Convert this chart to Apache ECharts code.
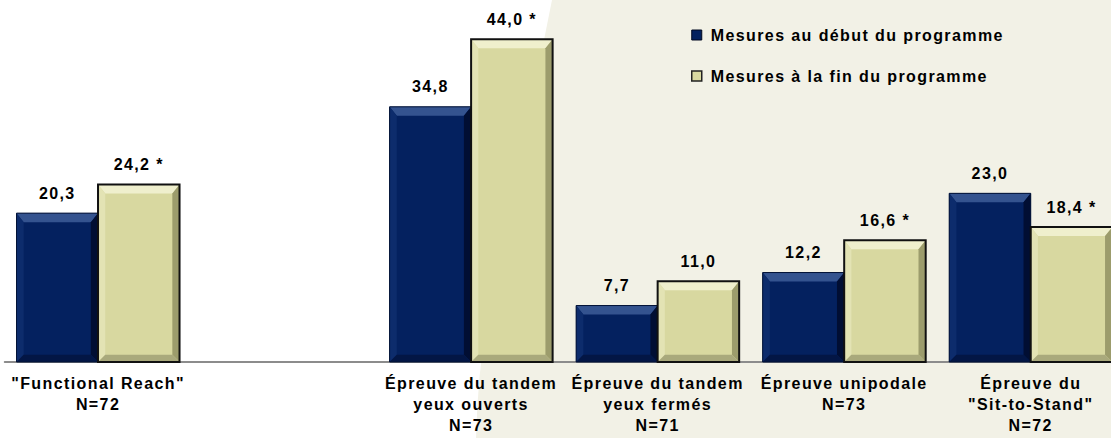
<!DOCTYPE html>
<html>
<head>
<meta charset="utf-8">
<script src="https://cdn.jsdelivr.net/npm/echarts@6/dist/echarts.min.js"></script>
<style>
  html, body { margin: 0; padding: 0; background: #ffffff; }
  #chart { width: 1111px; height: 438px; }
  #chart svg text { letter-spacing: 1.4px; }
</style>
</head>
<body>
<div id="chart"></div>
<script>
// ---- data ----
const categories = [
  '"Functional Reach"\nN=72',
  '',
  'Épreuve du tandem\nyeux ouverts\nN=73',
  'Épreuve du tandem\nyeux fermés\nN=71',
  'Épreuve unipodale\nN=73',
  'Épreuve du\n"Sit-to-Stand"\nN=72'
];
const seriesNames = ['Mesures au début du programme', 'Mesures à la fin du programme'];
const debutValues = [20.3, null, 34.8, 7.7, 12.2, 23.0];
const finValues = [24.2, null, 44.0, 11.0, 16.6, 18.4];
const debutSignificant = [false, false, false, false, false, false];
const finSignificant = [true, false, true, false, true, true];

// ---- styles ----
const FONT = '"Liberation Sans", Arial, sans-serif';
const BAR_RATIO = 81.5 / 186.5;
const BEVEL = 9;
const palettes = [
  { face: '#04215F', top: '#34538F', left: '#0D2C6C', right: '#010E33', bottom: '#031645', border: '#021236', borderWidth: 1 },
  { face: '#D8D8A0', top: '#EFEFCD', left: '#E3E3B4', right: '#9C9C6C', bottom: '#A9A97C', border: '#111111', borderWidth: 2 }
];

function fmt(v, star) {
  return v.toFixed(1).replace('.', ',') + (star ? ' *' : '');
}

function toData(values) {
  const out = [];
  values.forEach((v, i) => { if (v !== null) out.push([i, v]); });
  return out;
}

function makeRender(side, pal, flags) {
  return function (params, api) {
    const ci = api.value(0);
    const v = api.value(1);
    const top = api.coord([ci, v]);
    const base = api.coord([ci, 0]);
    const cw = api.size([1, 0])[0];
    const bw = cw * BAR_RATIO;
    const x0 = side === 0 ? top[0] - bw : top[0];
    const x1 = x0 + bw;
    const y0 = top[1];
    const y1 = base[1];
    const b = Math.min(BEVEL, (y1 - y0) / 2, bw / 2);
    const bs = b * 0.8;
    const poly = (pts, fill) => ({ type: 'polygon', shape: { points: pts }, style: { fill: fill } });
    return {
      type: 'group',
      children: [
        { type: 'rect', shape: { x: x0, y: y0, width: bw, height: y1 - y0 }, style: { fill: pal.face } },
        poly([[x0, y0], [x1, y0], [x1 - bs, y0 + b], [x0 + bs, y0 + b]], pal.top),
        poly([[x0, y0], [x0 + bs, y0 + b], [x0 + bs, y1 - bs], [x0, y1]], pal.left),
        poly([[x1, y0], [x1, y1], [x1 - bs, y1 - bs], [x1 - bs, y0 + b]], pal.right),
        poly([[x0, y1], [x0 + bs, y1 - bs], [x1 - bs, y1 - bs], [x1, y1]], pal.bottom),
        { type: 'rect', shape: { x: x0, y: y0, width: bw, height: y1 - y0 },
          style: { fill: 'none', stroke: pal.border, lineWidth: pal.borderWidth } },
        { type: 'text',
          style: {
            text: fmt(v, flags[ci]),
            x: (x0 + x1) / 2, y: y0 - 20,
            align: 'center', verticalAlign: 'middle',
            textAlign: 'center', textVerticalAlign: 'middle',
            fontFamily: FONT, fontSize: 16, fontWeight: 'bold',
            fill: '#000000'
          } }
      ]
    };
  };
}

const chart = echarts.init(document.getElementById('chart'), null, { renderer: 'svg', width: 1111, height: 438 });

const option = {
  animation: false,
  backgroundColor: '#ffffff',
  graphic: [{
    type: 'polygon',
    z: -10,
    silent: true,
    shape: { points: [[552, 0], [486, 330], [482.4, 351.7], [479.5, 377], [477.4, 405.7], [476, 438], [1111, 438], [1111, 0]] },
    style: { fill: '#F2F1E6' }
  }],
  grid: { left: 4.75, width: 1119.25, top: 10, height: 352, containLabel: false, outerBoundsMode: 'none' },
  legend: {
    orient: 'vertical',
    left: 686,
    top: 22,
    itemWidth: 10,
    itemHeight: 10,
    itemGap: 25,
    icon: 'rect',
    textStyle: { fontFamily: FONT, fontSize: 16, fontWeight: 'bold', color: '#000', lineHeight: 16, padding: [0, 0, 0, 4] },
    data: [
      { name: seriesNames[0], itemStyle: { color: palettes[0].face, borderColor: '#000820', borderWidth: 1 } },
      { name: seriesNames[1], itemStyle: { color: palettes[1].face, borderColor: '#222', borderWidth: 1.5 } }
    ]
  },
  xAxis: {
    type: 'category',
    data: categories,
    axisLine: { show: true, lineStyle: { color: '#8C8C8C', width: 2 } },
    axisTick: { show: false },
    axisLabel: {
      interval: 0,
      margin: 11,
      fontFamily: FONT,
      fontSize: 16,
      fontWeight: 'bold',
      lineHeight: 21,
      color: '#000000'
    },
    splitLine: { show: false }
  },
  yAxis: {
    type: 'value',
    min: 0,
    max: 48,
    show: false,
    splitLine: { show: false }
  },
  series: [
    {
      name: seriesNames[0],
      type: 'custom',
      itemStyle: { color: palettes[0].face },
      encode: { x: 0, y: 1 },
      data: toData(debutValues),
      renderItem: makeRender(0, palettes[0], debutSignificant)
    },
    {
      name: seriesNames[1],
      type: 'custom',
      itemStyle: { color: palettes[1].face },
      encode: { x: 0, y: 1 },
      data: toData(finValues),
      renderItem: makeRender(1, palettes[1], finSignificant)
    }
  ]
};

chart.setOption(option);
</script>
</body>
</html>
